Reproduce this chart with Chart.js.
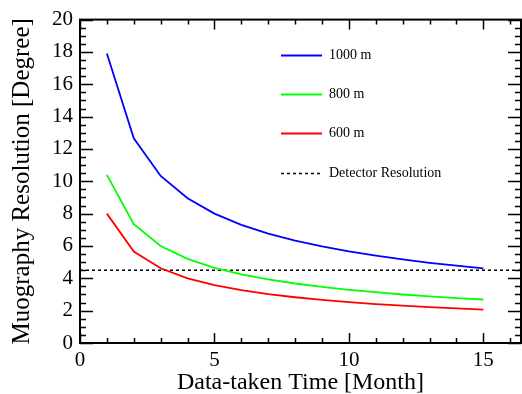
<!DOCTYPE html>
<html>
<head>
<meta charset="utf-8">
<script src="https://cdn.jsdelivr.net/npm/chart.js@4/dist/chart.umd.min.js"></script>
<style>
  html, body { margin: 0; padding: 0; background: #fff; }
  #wrap { width: 522px; height: 394px; }
</style>
</head>
<body>
<div id="wrap"><canvas id="chart" width="522" height="394"></canvas></div>
<script>
const months = [1, 2, 3, 4, 5, 6, 7, 8, 9, 10, 11, 12, 13, 14, 15];
const res1000 = [17.9, 12.66, 10.33, 8.95, 8.0, 7.31, 6.77, 6.33, 5.97, 5.66, 5.4, 5.17, 4.96, 4.78, 4.62];
const res800 = [10.4, 7.35, 6.0, 5.2, 4.65, 4.25, 3.93, 3.68, 3.47, 3.29, 3.14, 3.0, 2.88, 2.78, 2.69];
const res600 = [8.0, 5.66, 4.62, 4.0, 3.58, 3.27, 3.02, 2.83, 2.67, 2.53, 2.41, 2.31, 2.22, 2.14, 2.07];
const detectorRes = 4.5;
const xRange = [0, 16.4];
const xTickLabels = [0, 5, 10, 15];
const yTickLabels = [0, 2, 4, 6, 8, 10, 12, 14, 16, 18, 20];

const FONT = "'Liberation Serif', 'Times New Roman', serif";

function toPoints(xs, ys) {
  return xs.map((x, i) => ({ x: x, y: ys[i] }));
}

// ROOT style frame with inward ticks on all four sides
const frameTicks = {
  id: "frameTicks",
  afterDatasetsDraw(chart) {
    const { ctx, chartArea: a, scales } = chart;
    const xs = scales.x, ys = scales.y;
    ctx.save();
    ctx.strokeStyle = "#000";
    ctx.lineWidth = 2;
    ctx.strokeRect(a.left, a.top, a.right - a.left, a.bottom - a.top);

    ctx.lineWidth = 1.5;
    ctx.beginPath();
    for (let v = 0; v <= xRange[1]; v += 1) {
      const px = Math.round(xs.getPixelForValue(v)) + 0.5;
      const len = v % 5 === 0 ? 10 : 5;
      ctx.moveTo(px, a.bottom); ctx.lineTo(px, a.bottom - len);
      ctx.moveTo(px, a.top); ctx.lineTo(px, a.top + len);
    }
    for (let v = 0; v <= 20; v += 0.5) {
      const py = Math.round(ys.getPixelForValue(v)) + 0.5;
      const len = v % 2 === 0 ? 13 : 6;
      ctx.moveTo(a.left, py); ctx.lineTo(a.left + len, py);
      ctx.moveTo(a.right, py); ctx.lineTo(a.right - len, py);
    }
    ctx.stroke();
    ctx.restore();
  }
};

// legend drawn inside the plot, ROOT TLegend style
const innerLegend = {
  id: "innerLegend",
  afterDraw(chart) {
    const { ctx } = chart;
    const rows = [55, 94, 133, 173];
    ctx.save();
    ctx.font = "14px " + FONT;
    ctx.textBaseline = "middle";
    chart.data.datasets.forEach((ds, i) => {
      const y = rows[i] + 0.5;
      ctx.strokeStyle = ds.borderColor;
      ctx.lineWidth = ds.borderWidth;
      ctx.setLineDash(ds.borderDash || []);
      ctx.beginPath();
      ctx.moveTo(281, y);
      ctx.lineTo(322, y);
      ctx.stroke();
      ctx.setLineDash([]);
      ctx.fillStyle = "#000";
      ctx.fillText(ds.label, 329, rows[i]);
    });
    ctx.restore();
  }
};

new Chart(document.getElementById("chart"), {
  type: "line",
  data: {
    datasets: [
      { label: "1000 m", data: toPoints(months, res1000), borderColor: "#0000ff", borderWidth: 1.8 },
      { label: "800 m", data: toPoints(months, res800), borderColor: "#00ff00", borderWidth: 1.8 },
      { label: "600 m", data: toPoints(months, res600), borderColor: "#ff0000", borderWidth: 1.8 },
      {
        label: "Detector Resolution",
        data: toPoints(xRange, [detectorRes, detectorRes]),
        borderColor: "#000000", borderWidth: 1.5, borderDash: [3, 3]
      }
    ]
  },
  options: {
    responsive: false,
    animation: false,
    layout: { padding: { top: 13, right: 1, left: 0, bottom: 0 } },
    elements: { point: { radius: 0 }, line: { tension: 0 } },
    plugins: { legend: { display: false }, tooltip: { enabled: false } },
    scales: {
      x: {
        type: "linear",
        min: xRange[0],
        max: xRange[1],
        grid: { display: false, drawTicks: false },
        border: { display: false },
        afterBuildTicks: (s) => { s.ticks = xTickLabels.map(v => ({ value: v })); },
        afterFit: (s) => { s.height = 51; },
        ticks: { color: "#000", font: { family: FONT, size: 21 }, padding: 5, maxRotation: 0 },
        title: {
          display: true, text: "Data-taken Time [Month]", color: "#000",
          font: { family: FONT, size: 24 }, padding: { top: 0, bottom: -3 }
        }
      },
      y: {
        min: 0,
        max: 20,
        grid: { display: false, drawTicks: false },
        border: { display: false },
        afterBuildTicks: (s) => { s.ticks = yTickLabels.map(v => ({ value: v })); },
        afterFit: (s) => { s.width = 80; },
        ticks: { color: "#000", font: { family: FONT, size: 21 }, padding: 7 },
        title: {
          display: true, text: "Muography Resolution [Degree]", color: "#000",
          font: { family: FONT, size: 25 }, padding: { top: 7, bottom: 0 }
        }
      }
    }
  },
  plugins: [frameTicks, innerLegend]
});
</script>
</body>
</html>
